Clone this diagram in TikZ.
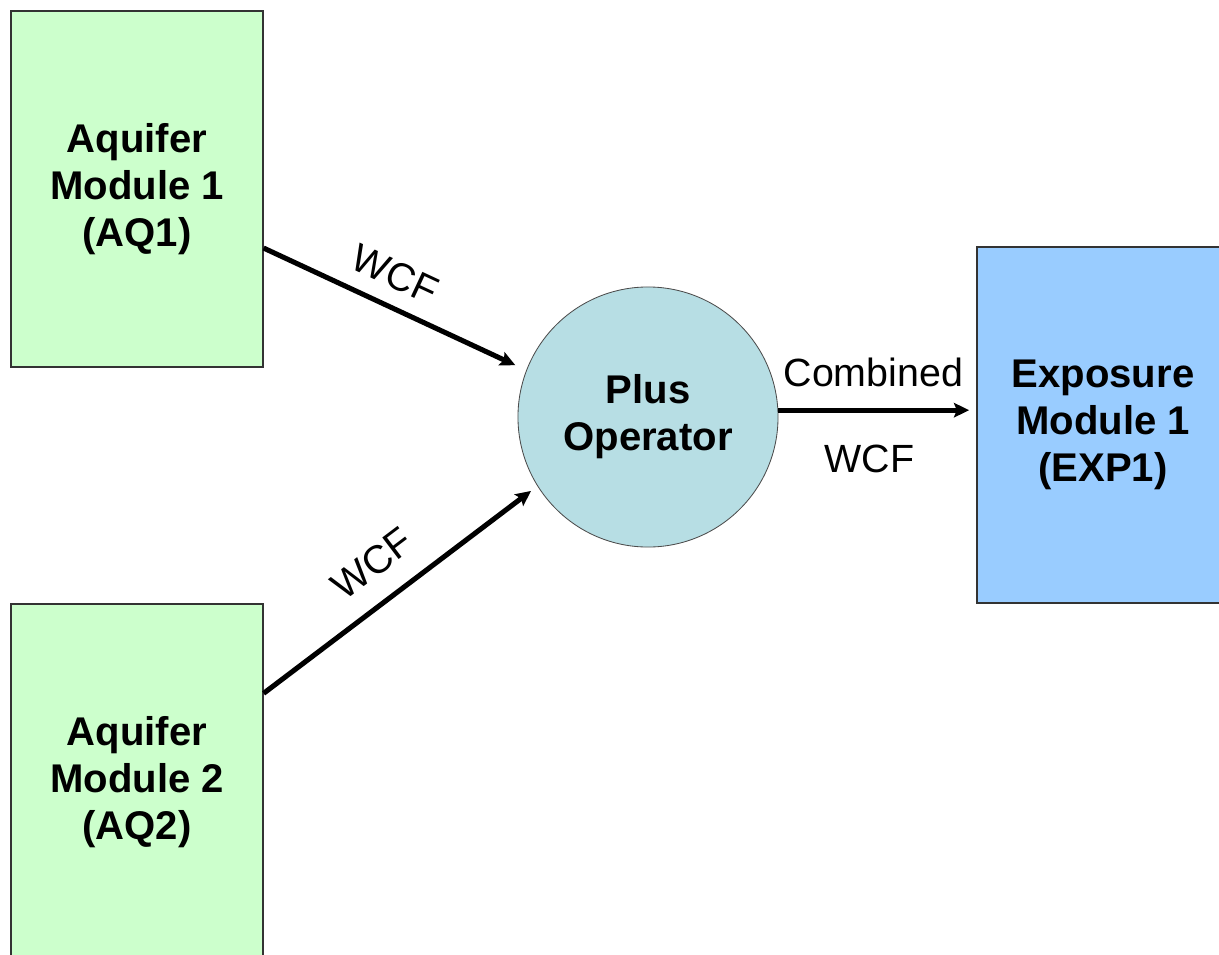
\documentclass[tikz,border=0pt]{standalone}
\usepackage{fontspec}
\setmainfont{Liberation Sans}
\usetikzlibrary{shapes.geometric, arrows.meta}
\definecolor{aqgreen}{HTML}{CCFFCC}
\definecolor{opblue}{RGB}{183,222,228}
\definecolor{expblue}{HTML}{99CCFF}
\tikzstyle{module} = [rectangle, draw=black!80, line width=0.8pt, minimum width=6.3cm, minimum height=8.9cm, text centered, align=center, font=\fontsize{28.5}{33.5}\selectfont\bfseries]
\tikzstyle{aquifer} = [module, fill=aqgreen]
\tikzstyle{exposure} = [module, fill=expblue]
\tikzstyle{operator} = [circle, draw=black!70, line width=0.6pt, minimum size=6.5cm, text centered, align=center, fill=opblue, font=\fontsize{28.5}{33.5}\selectfont\bfseries]
\tikzstyle{flow} = [font=\fontsize{28}{33.5}\selectfont]
\tikzstyle{arrow} = [line width=3.6pt,->,>={Stealth[length=0.38cm, width=0.36cm, inset=0.07cm]}]

\begin{document}
\begin{tikzpicture}[x=0.025cm, y=-0.025cm]
    \useasboundingbox (0,0) rectangle (1219,955);
    \node [aquifer] at (137,189) (aq1) {Aquifer\\Module 1\\(AQ1)};
    \node [aquifer] at (137,782) (aq2) {Aquifer\\Module 2\\(AQ2)};
    \node [operator] at (648,417) (plus) {Plus\\Operator};
    \node [exposure] at (1103,425) (exp1) {Exposure\\Module 1\\(EXP1)};

    \draw [arrow, shorten >=0.3cm] (aq1.-25.8) -- node[flow, sloped, above=0.27cm, pos=0.45] {WCF} (plus.159.4);
    \draw [arrow, shorten >=0.2cm] (aq2.35.1) -- node[flow, sloped, above=0.42cm, pos=0.48] {WCF} (plus.212.9);
    \draw [arrow, shorten >=0.18cm] (plus.3) -- node[flow, above=0.4cm, pos=0.48] {Combined} node[flow, below=0.7cm, pos=0.46] {WCF} (plus.3 -| exp1.west);
\end{tikzpicture}
\end{document}
